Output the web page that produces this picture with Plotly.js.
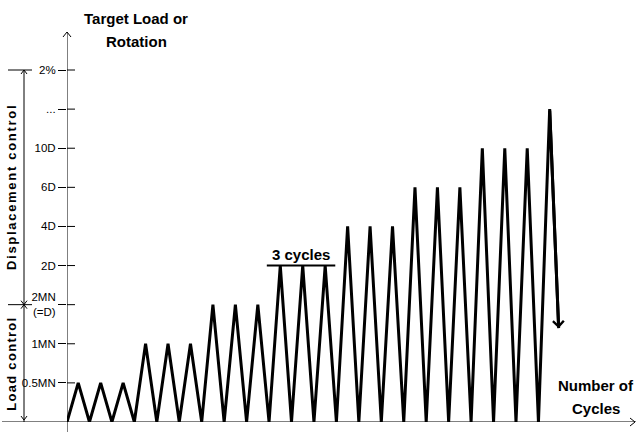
<!DOCTYPE html>
<html><head><meta charset="utf-8">
<script src="https://cdn.plot.ly/plotly-3.0.1.min.js"></script>
<style>
html,body{margin:0;padding:0;background:#fff;}
#chart{width:636px;height:432px;}
.annotation[data-index="0"] text{letter-spacing:1.7px;}
.annotation[data-index="1"] text{letter-spacing:1.3px;}
</style></head><body><div id="chart"></div>
<script>
// ---- data ----
const levelValues = [1, 2, 3, 4, 5, 6, 7, 8, 9];
const levelLabels = ['0.5MN', '1MN', '2MN<br>(=D)', '2D', '4D', '6D', '10D', '...', '2%'];
const peakLevels = [1, 1, 1, 2, 2, 2, 3, 3, 3, 4, 4, 4, 5, 5, 5, 6, 6, 6, 7, 7, 7, 8];
const finalArrowTip = [21.9, 2.4];       // [cycle, level]
const threeCyclesSpan = [8.9, 11.95];     // cycles
const threeCyclesLevel = 4;
const loadControlLevels = [0, 3];
const dispControlLevels = [3, 9];

// ---- build zigzag from data ----
const xs = [0], ys = [0];
peakLevels.forEach((lv, i) => {
  xs.push(i + 0.5); ys.push(lv);
  if (i < peakLevels.length - 1) { xs.push(i + 1); ys.push(0); }
  else { xs.push(finalArrowTip[0]); ys.push(finalArrowTip[1]); }
});

// ---- geometry helpers ----
const W = 636, H = 432, M = {l: 67, r: 0, t: 32, b: 10};
const PW = W - M.l - M.r, PH = H - M.t - M.b;
const CYC = 22.45, LV = 39.11;
const px = p => (p - M.l) / PW;
const py = p => (H - M.b - p) / PH;
const SANS = '"Liberation Sans", Arial, sans-serif';

function chevronPaper(pts) {
  return 'M' + pts.map(p => px(p[0]) + ',' + py(p[1])).join('L');
}
const bx = 24; // bracket x pixel
const dl = 4 / LV; // 4px in level units
function chevY(level, dir) { // dir = +1 up-pointing, -1 down-pointing
  return 'M' + px(bx - 3) + ',' + (level - dir * dl) + 'L' + px(bx) + ',' + level + 'L' + px(bx + 3) + ',' + (level - dir * dl);
}

const blk = {color: 'black', width: 1};
const shapes = [
  {type: 'line', xref: 'x', yref: 'paper', x0: 0, x1: 0, y0: py(432), y1: 1, line: blk},
  {type: 'line', xref: 'paper', yref: 'y', x0: px(2), x1: 1, y0: 0, y1: 0, line: blk},
  {type: 'path', xref: 'paper', yref: 'paper', path: chevronPaper([[63, 37], [67, 32], [71, 37]]), line: blk},
  {type: 'path', xref: 'paper', yref: 'paper', path: chevronPaper([[630, 418], [635, 422], [630, 426]]), line: blk},
  {type: 'line', xref: 'paper', yref: 'y', x0: px(bx), x1: px(bx), y0: loadControlLevels[0], y1: dispControlLevels[1], line: blk},
  {type: 'line', xref: 'paper', yref: 'y', x0: px(8), x1: px(32), y0: dispControlLevels[1], y1: dispControlLevels[1], line: blk},
  {type: 'line', xref: 'paper', yref: 'y', x0: px(8), x1: px(32), y0: dispControlLevels[0], y1: dispControlLevels[0], line: blk},
  {type: 'path', xref: 'paper', yref: 'y', path: chevY(dispControlLevels[1], 1), line: blk},
  {type: 'path', xref: 'paper', yref: 'y', path: chevY(dispControlLevels[0], -1), line: blk},
  {type: 'path', xref: 'paper', yref: 'y', path: chevY(loadControlLevels[1], 1), line: blk},
  {type: 'path', xref: 'paper', yref: 'y', path: chevY(loadControlLevels[0] + 0.05, -1), line: blk},
  {type: 'line', xref: 'x', yref: 'y', x0: threeCyclesSpan[0], x1: threeCyclesSpan[1], y0: threeCyclesLevel, y1: threeCyclesLevel, line: {color: 'black', width: 2}}
];
levelValues.forEach(v => shapes.push({type: 'line', xref: 'paper', yref: 'y', x0: 0, x1: px(75), y0: v, y1: v, line: blk}));

const bold = {family: SANS, size: 15, color: 'black', weight: 'bold'};
function lineText(t, xp, yp) {
  return {text: '<b>' + t + '</b>', xref: 'paper', yref: 'paper', x: px(xp), y: py(yp), xanchor: 'center', yanchor: 'middle', showarrow: false, font: bold};
}
const annotations = [
  {text: '<b>Displacement control</b>', xref: 'paper', yref: 'paper', x: px(11), y: py(187), textangle: -90, xanchor: 'center', yanchor: 'middle', showarrow: false, font: {family: SANS, size: 13, color: 'black'}},
  {text: '<b>Load control</b>', xref: 'paper', yref: 'paper', x: px(11), y: py(364), textangle: -90, xanchor: 'center', yanchor: 'middle', showarrow: false, font: {family: SANS, size: 13, color: 'black'}},
  lineText('Target Load or', 136, 19),
  lineText('Rotation', 136, 41),
  lineText('Number of', 596, 385.5),
  lineText('Cycles', 596, 408.5),
  {text: '<b>3 cycles</b>', xref: 'x', yref: 'y', x: (threeCyclesSpan[0] + threeCyclesSpan[1]) / 2, y: threeCyclesLevel, xanchor: 'center', yanchor: 'bottom', yshift: 1, showarrow: false, font: bold},
  {text: '', xref: 'x', yref: 'y', x: finalArrowTip[0], y: finalArrowTip[1], axref: 'x', ayref: 'y', ax: xs[xs.length - 2], ay: ys[ys.length - 2], showarrow: true, arrowhead: 4, arrowsize: 0.7, arrowwidth: 3, arrowcolor: 'black'}
];

const trace = {x: xs, y: ys, type: 'scatter', mode: 'lines', line: {color: 'black', width: 3}, hoverinfo: 'skip', cliponaxis: false};

const layout = {
  width: W, height: H, margin: M, showlegend: false,
  paper_bgcolor: 'white', plot_bgcolor: 'white',
  xaxis: {range: [0, PW / CYC], showgrid: false, zeroline: false, showline: false, showticklabels: false, ticks: ''},
  yaxis: {range: [0, PH / LV], showgrid: false, zeroline: false, showline: false, tickmode: 'array', tickvals: levelValues, ticktext: levelLabels,
    ticks: 'outside', ticklen: 8, tickwidth: 1, tickcolor: 'black', tickfont: {family: SANS, size: 11.5, color: 'black'}},
  shapes: shapes, annotations: annotations
};
Plotly.newPlot('chart', [trace], layout, {staticPlot: true, displayModeBar: false});
</script></body></html>
